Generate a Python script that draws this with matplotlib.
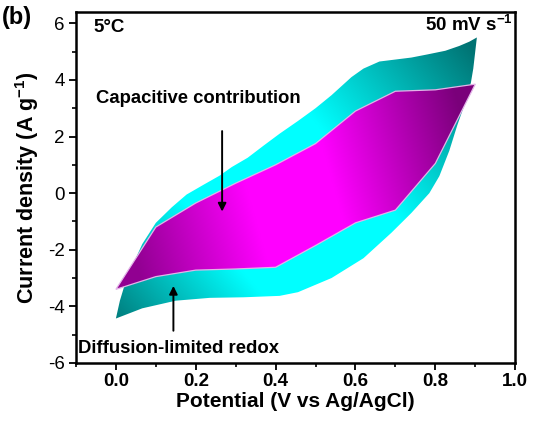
import numpy as np
import matplotlib
matplotlib.use("Agg")
import matplotlib.pyplot as plt
from matplotlib.patches import Polygon

plt.rcParams['font.family'] = ['Liberation Sans', 'DejaVu Sans']
plt.rcParams['mathtext.fontset'] = 'custom'
plt.rcParams['mathtext.rm'] = 'Liberation Sans:bold'
plt.rcParams['mathtext.bf'] = 'Liberation Sans:bold'
plt.rcParams['axes.unicode_minus'] = False

# total CV at 50 mV/s, forward (upper) and reverse (lower) branch
cv_fwd_x = [0.0, 0.01, 0.025, 0.045, 0.066, 0.10, 0.14, 0.177, 0.22, 0.26, 0.29, 0.33,
            0.37, 0.41, 0.456, 0.50, 0.54, 0.59, 0.62, 0.66, 0.70, 0.74, 0.78, 0.825,
            0.86, 0.885, 0.904]
cv_fwd_y = [-4.43, -3.8, -3.1, -2.45, -1.8, -1.05, -0.5, -0.05, 0.3, 0.62, 0.92, 1.25,
            1.68, 2.1, 2.55, 3.0, 3.46, 4.1, 4.4, 4.65, 4.72, 4.79, 4.9, 5.03,
            5.2, 5.35, 5.5]
cv_rev_x = [0.904, 0.895, 0.889, 0.87, 0.855, 0.835, 0.81, 0.785, 0.74, 0.69, 0.62,
            0.54, 0.456, 0.41, 0.32, 0.235, 0.15, 0.066, 0.0]
cv_rev_y = [5.5, 4.4, 3.9, 3.0, 2.4, 1.5, 0.6, 0.0, -0.7, -1.4, -2.3,
            -3.0, -3.5, -3.63, -3.68, -3.7, -3.8, -4.07, -4.43]

# capacitive contribution
cap_pot = [0.0, 0.1, 0.2, 0.3, 0.4, 0.5, 0.6, 0.7, 0.8, 0.9]
cap_anodic = [-3.4, -1.2, -0.35, 0.35, 1.0, 1.75, 2.9, 3.6, 3.65, 3.85]
cap_cathodic = [-3.4, -2.95, -2.72, -2.68, -2.62, -1.85, -1.05, -0.6, 1.05, 3.85]


def gradient_fill(ax, xs, ys, rgb, u_stops, b_stops, tilt, z, edge=None):
    poly = Polygon(np.column_stack([xs, ys]), closed=True, facecolor='none',
                   edgecolor=edge if edge else 'none', lw=0.9, zorder=z + 0.1)
    ax.add_patch(poly)
    gx = np.linspace(-0.05, 0.95, 500)
    gy = np.linspace(-5, 6, 500)
    X, Y = np.meshgrid(gx, gy)
    b = np.interp(X + tilt * Y, u_stops, b_stops)
    img = np.dstack([rgb[0] * b, rgb[1] * b, rgb[2] * b])
    im = ax.imshow(img, extent=[gx[0], gx[-1], gy[0], gy[-1]], origin='lower',
                   aspect='auto', interpolation='bilinear', zorder=z)
    im.set_clip_path(poly)


fig = plt.figure(figsize=(5.35, 4.28), dpi=100)
ax = fig.add_axes([0.142, 0.152, 0.821, 0.820])

gradient_fill(ax, cv_fwd_x + cv_rev_x, cv_fwd_y + cv_rev_y, (0, 1, 1),
              [-0.3, 0.15, 0.65, 1.2], [0.45, 1.0, 1.0, 0.45], 0.06, 2)
gradient_fill(ax, cap_pot + cap_pot[::-1], cap_anodic + cap_cathodic[::-1], (1, 0, 1),
              [0.0, 0.33, 0.55, 0.92], [0.57, 1.0, 1.0, 0.48], 0.02, 3, edge='#e2b4e8')

ax.set_xlim(-0.1, 1.0)
ax.set_ylim(-6, 6.4)
ax.set_xticks([0.0, 0.2, 0.4, 0.6, 0.8, 1.0])
ax.set_xticks(np.arange(-0.1, 1.0, 0.1), minor=True)
ax.set_yticks([-6, -4, -2, 0, 2, 4, 6])
ax.set_yticks(np.arange(-5, 7, 2), minor=True)
ax.set_xticklabels(['0.0', '0.2', '0.4', '0.6', '0.8', '1.0'], fontweight='bold')
ax.tick_params(which='major', direction='out', length=5, width=1.3, labelsize=13.5,
               top=False, right=False, pad=3)
ax.tick_params(axis='x', which='major', pad=2)
ax.tick_params(which='minor', direction='out', length=3, width=1.2, top=False, right=False)
for s in ax.spines.values():
    s.set_linewidth(1.8)

ax.set_xlabel('Potential (V vs Ag/AgCl)', fontsize=15, fontweight='bold', labelpad=2)
ax.set_ylabel('Current density (A g$^{-1}$)', fontsize=15.5, fontweight='bold', labelpad=5)

ax.text(-0.055, 5.85, '5\u00b0C', fontsize=13.5, fontweight='bold', va='center')
ax.text(0.995, 5.95, '50 mV s$^{-1}$', fontsize=13.5, fontweight='bold', va='center', ha='right')
ax.text(-0.05, 3.36, 'Capacitive contribution', fontsize=13.3, fontweight='bold', va='center')
ax.text(-0.094, -5.5, 'Diffusion-limited redox', fontsize=13.3, fontweight='bold', va='center')
ax.annotate('', xy=(0.266, -0.75), xytext=(0.266, 2.29),
            arrowprops=dict(arrowstyle='-|>', color='black', lw=1.4, mutation_scale=12), zorder=5)
ax.annotate('', xy=(0.144, -3.18), xytext=(0.144, -4.96),
            arrowprops=dict(arrowstyle='-|>', color='black', lw=1.4, mutation_scale=12), zorder=5)
fig.text(0.004, 0.958, '(b)', fontsize=17, fontweight='bold', va='center')

fig.savefig('out.png', dpi=100)
